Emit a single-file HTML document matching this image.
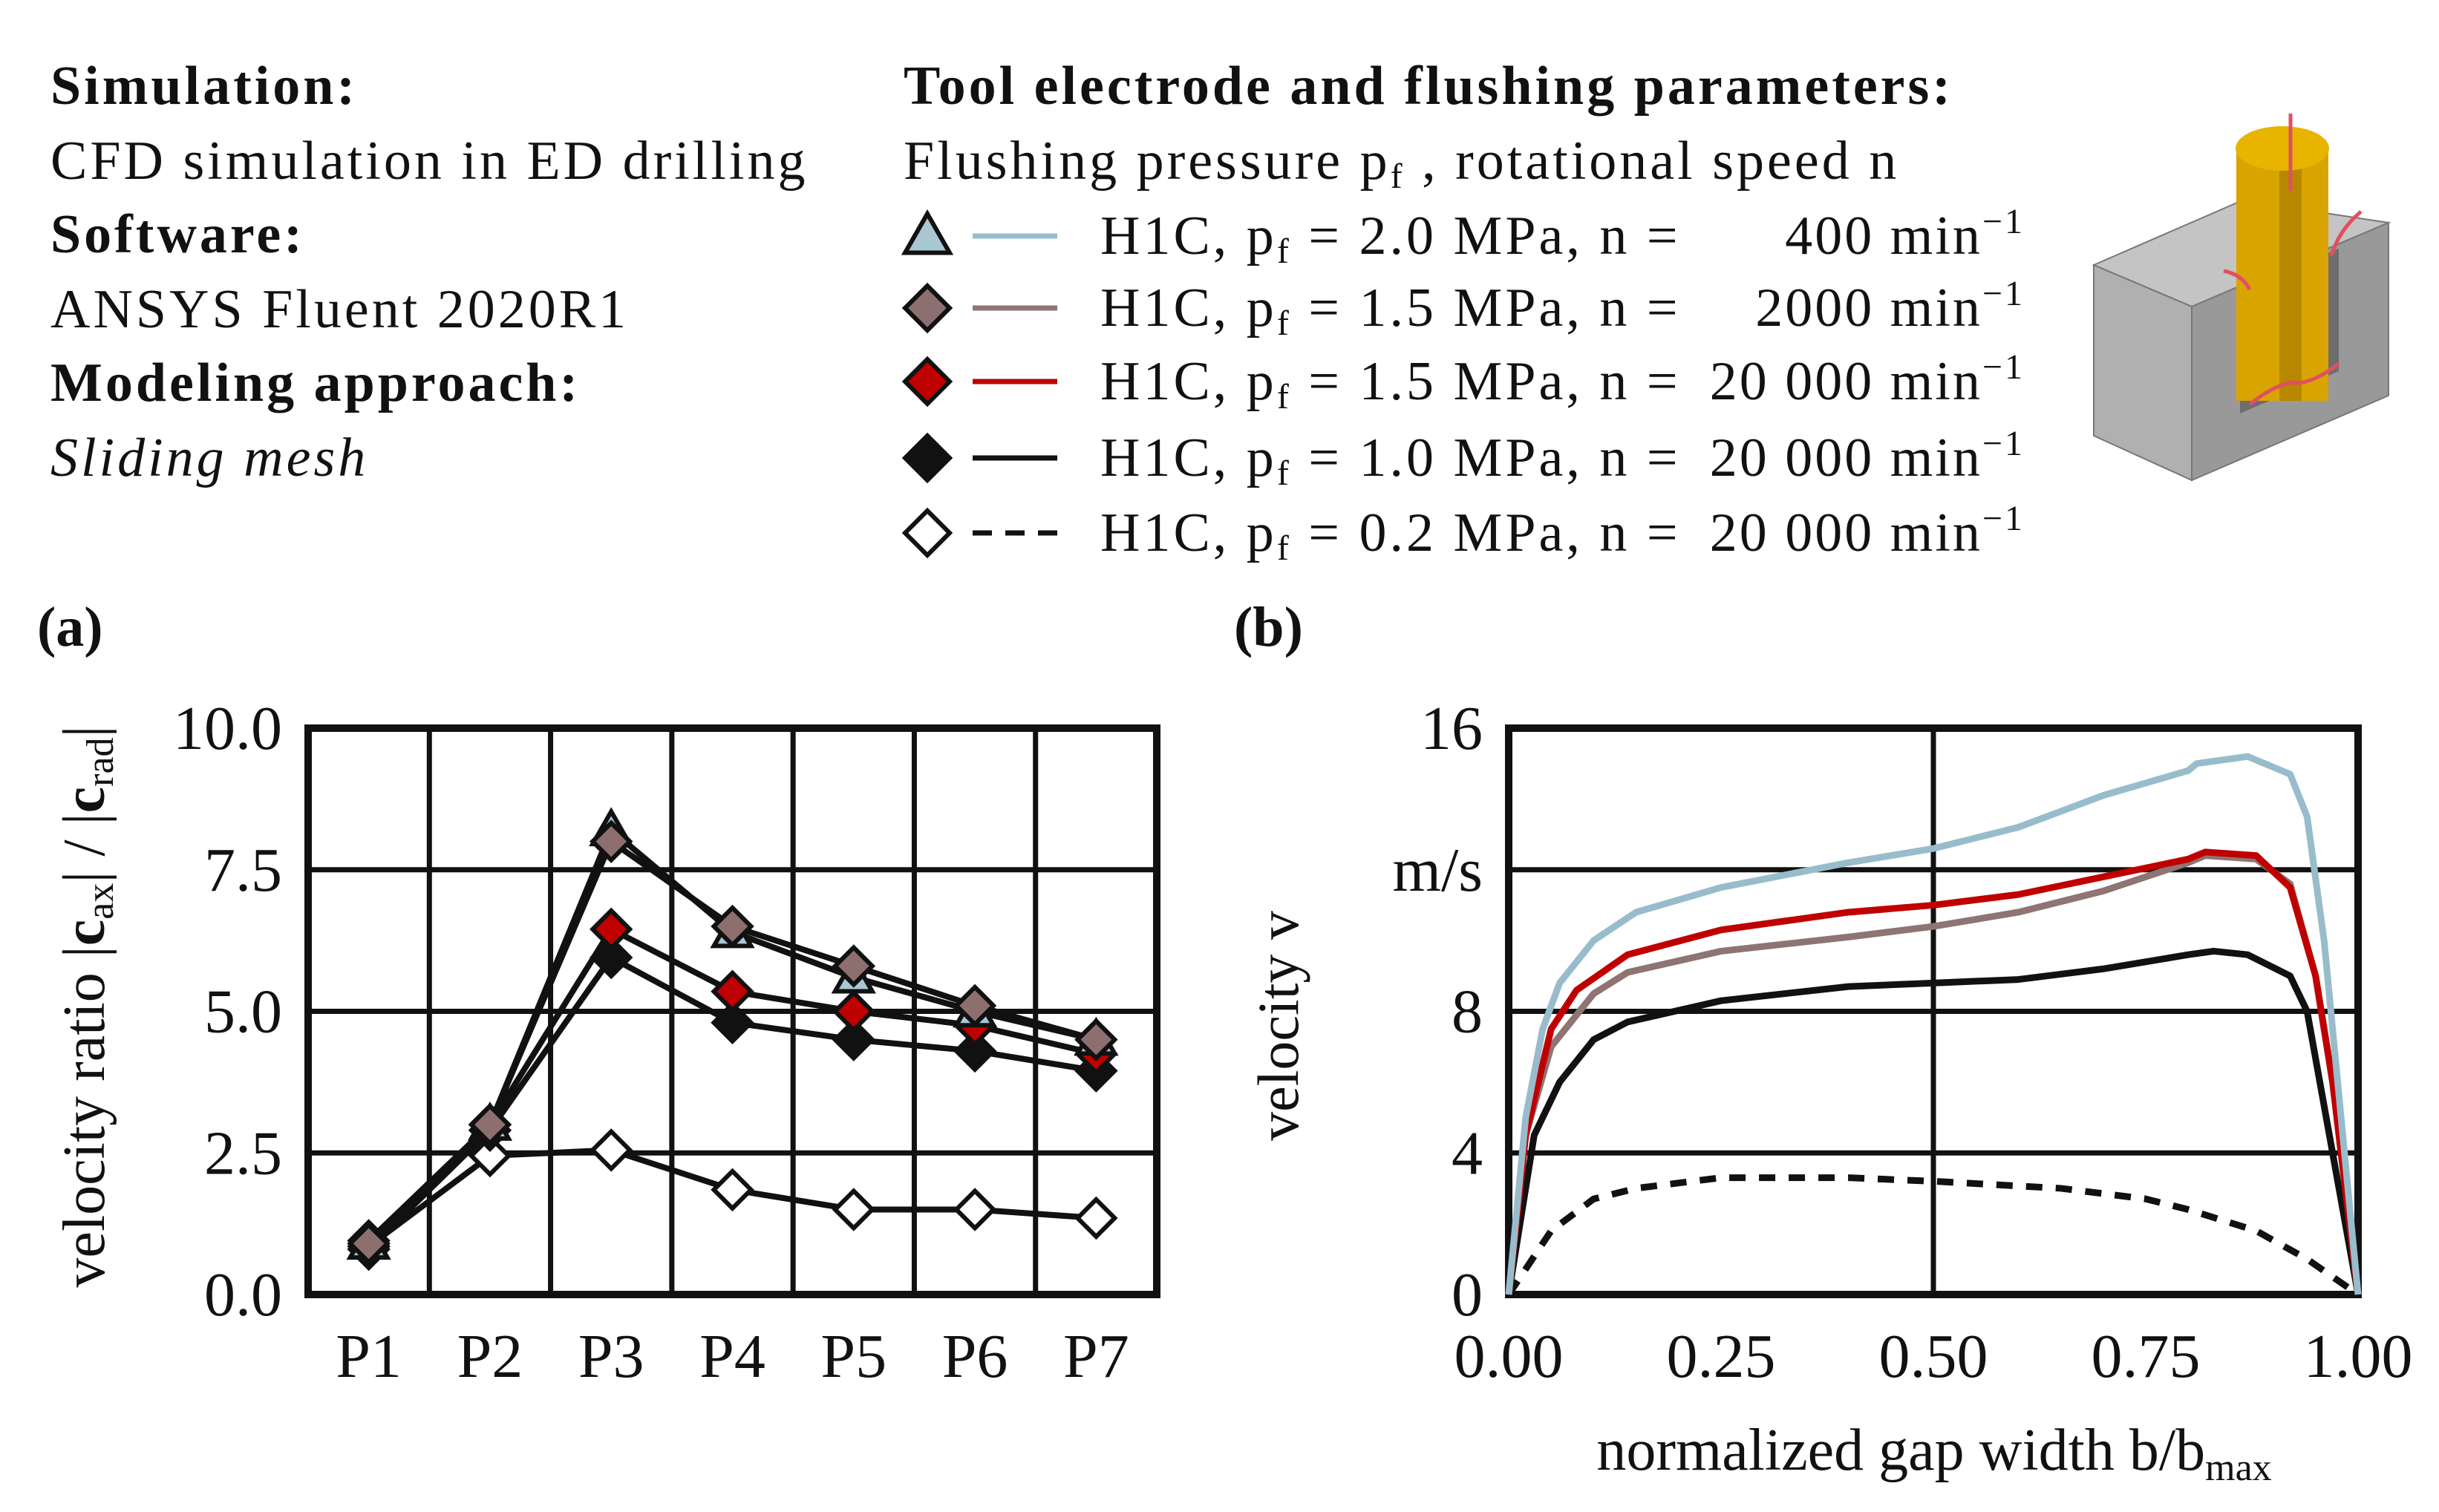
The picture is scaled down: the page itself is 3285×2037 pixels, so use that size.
<!DOCTYPE html>
<html><head><meta charset="utf-8"><style>
html,body{margin:0;padding:0;background:#fff}
svg{display:block}
text{font-family:"Liberation Serif",serif;fill:#111}
</style></head><body>
<svg id="fig" width="3285" height="2037" viewBox="0 0 3285 2037" xmlns="http://www.w3.org/2000/svg">
<g font-size="74" letter-spacing="4">
<text x="68" y="140" font-weight="bold">Simulation:</text>
<text x="68" y="241">CFD simulation in ED drilling</text>
<text x="68" y="340" font-weight="bold">Software:</text>
<text x="68" y="441">ANSYS  Fluent 2020R1</text>
<text x="68" y="540" font-weight="bold">Modeling approach:</text>
<text x="68" y="641" font-style="italic">Sliding mesh</text>
<text x="1217" y="140" font-weight="bold">Tool electrode and flushing parameters:</text>
<text x="1217" y="241">Flushing pressure p<tspan font-size="48" dy="12">f</tspan><tspan dy="-12"> , rotational speed n</tspan></text>
</g>
<g id="legend"></g>
<g>
<polygon points="2820,357 3020,270 3217,300 2952,413" fill="#c4c4c4" stroke="#777" stroke-width="2"/>
<polygon points="2820,357 2952,413 2952,647 2820,587" fill="#b0b0b0" stroke="#777" stroke-width="2"/>
<polygon points="2952,413 3217,300 3217,533 2952,647" fill="#999" stroke="#777" stroke-width="2"/>
<polygon points="3017,390 3150,335 3150,500 3017,557" fill="#6d6d6d"/>
<rect x="3012" y="200" width="124" height="340" fill="#d9a400"/>
<rect x="3070" y="195" width="30" height="345" fill="#b78700"/>
<ellipse cx="3074" cy="200" rx="63" ry="30" fill="#e8b400"/>
<line x1="3085" y1="153" x2="3085" y2="257" stroke="#e05060" stroke-width="5"/>
<path d="M3030,545 Q3060,520 3088,515 Q3110,520 3150,490" fill="none" stroke="#e05060" stroke-width="5"/>
<path d="M3140,345 Q3150,310 3180,285" fill="none" stroke="#e05060" stroke-width="5"/>
<path d="M3030,390 Q3020,370 2995,365" fill="none" stroke="#e05060" stroke-width="5"/>
</g>
<text x="50" y="870" font-size="76" font-weight="bold">(a)</text>
<text x="1662" y="870" font-size="76" font-weight="bold">(b)</text>
<g id="chartA"></g>
<g id="chartB"></g>
</svg>
<script>
const NS="http://www.w3.org/2000/svg";
function mk(parent,tag,attrs,txt){const e=document.createElementNS(NS,tag);for(const k in attrs)e.setAttribute(k,attrs[k]);if(txt!==undefined)e.textContent=txt;parent.appendChild(e);return e;}

// ---- Chart A data ----
const catsA=["P1","P2","P3","P4","P5","P6","P7"];
const ticksA=["0.0","2.5","5.0","7.5","10.0"];
const tickValsA=[0,2.5,5,7.5,10];
const s400=[0.9,3.0,8.2,6.4,5.6,5.0,4.5];
const s2000=[0.9,3.0,8.0,6.5,5.8,5.1,4.5];
const s20k15=[0.95,3.0,6.45,5.35,5.0,4.75,4.25];
const s20k10=[0.8,2.9,5.95,4.8,4.5,4.3,3.95];
const s20k02=[0.85,2.45,2.55,1.85,1.5,1.5,1.35];

// ---- Chart B data ----
const xTicksB=["0.00","0.25","0.50","0.75","1.00"];
const xTickValsB=[0,0.25,0.5,0.75,1];
const yTicksB=["0","4","8","m/s","16"];
const yTickValsB=[0,4,8,12,16];
const bx400=[0,0.02,0.04,0.06,0.1,0.15,0.25,0.4,0.5,0.6,0.7,0.8,0.81,0.87,0.92,0.94,0.96,0.98,1];
const by400=[0,5,7.5,8.8,10,10.8,11.5,12.2,12.6,13.2,14.1,14.8,15.0,15.2,14.7,13.5,10,5,0];
const bx15=[0,0.02,0.05,0.08,0.14,0.25,0.4,0.5,0.6,0.7,0.8,0.82,0.88,0.92,0.95,0.97,1];
const by15=[0,4.5,7.5,8.6,9.6,10.3,10.8,11.0,11.3,11.8,12.3,12.5,12.4,11.5,9,6,0];
const bx2000=[0,0.02,0.05,0.1,0.14,0.25,0.4,0.5,0.6,0.7,0.8,0.82,0.88,0.92,0.95,0.97,1];
const by2000=[0,4.5,7,8.5,9.1,9.7,10.1,10.4,10.8,11.4,12.2,12.4,12.3,11.6,9,6,0];
const bx10=[0,0.03,0.06,0.1,0.14,0.25,0.4,0.5,0.6,0.7,0.8,0.83,0.87,0.92,0.94,0.97,1];
const by10=[0,4.5,6,7.2,7.7,8.3,8.7,8.8,8.9,9.2,9.6,9.7,9.6,9.0,8.0,4,0];
const bx02=[0,0.05,0.1,0.15,0.25,0.4,0.5,0.65,0.75,0.8,0.88,0.94,1];
const by02=[0,1.8,2.7,3.0,3.3,3.3,3.2,3.0,2.7,2.4,1.8,1.0,0];

function marker(g,type,cx,cy,fill,r){
  if(type==="tri") return mk(g,"polygon",{points:`${cx},${cy-r} ${cx+r},${cy+r*0.75} ${cx-r},${cy+r*0.75}`,fill:fill,stroke:"#111","stroke-width":6});
  return mk(g,"polygon",{points:`${cx},${cy-r} ${cx+r},${cy} ${cx},${cy+r} ${cx-r},${cy}`,fill:fill,stroke:"#111","stroke-width":6});
}

// ---- Legend ----
const lg=document.getElementById("legend");
const legRows=[
 {m:"tri",f:"#a9c7d3",c:"#98bccb",d:"",p:"2.0",n:"400"},
 {m:"dia",f:"#8c6f6e",c:"#8e7472",d:"",p:"1.5",n:"2000"},
 {m:"dia",f:"#c00000",c:"#c00000",d:"",p:"1.5",n:"20 000"},
 {m:"dia",f:"#111",c:"#111",d:"",p:"1.0",n:"20 000"},
 {m:"dia",f:"#fff",c:"#111",d:"26 18",p:"0.2",n:"20 000"}];
const legY=[318,415,514,617,718];
legRows.forEach((r,i)=>{
  const g=mk(lg,"g",{});
  
  
  const y=legY[i];
  marker(g,r.m,1249,y,r.f,30);
  const l=mk(g,"line",{x1:1310,y1:y,x2:1424,y2:y,stroke:r.c,"stroke-width":7});
  if(r.d)l.setAttribute("stroke-dasharray",r.d);
  const t=mk(g,"text",{x:1482,y:y+24,"font-size":74,"letter-spacing":4});
  t.innerHTML=`H1C, p<tspan font-size="48" dy="12">f</tspan><tspan dy="-12"> = ${r.p} MPa, n = </tspan>`;
  const t2=mk(g,"text",{x:2727,y:y+24,"font-size":74,"letter-spacing":3,"text-anchor":"end"});
  t2.innerHTML=`${r.n} min<tspan font-size="48" dy="-28">−1</tspan>`;
});

// ---- Chart A ----
(function(){
 const g=document.getElementById("chartA");
 const L=415,R=1558,T=981,B=1744;
 const n=catsA.length,cw=(R-L)/n;
 const xA=i=>L+cw*(i+0.5);
 const yA=v=>B-(v/10)*(B-T);
 for(let i=1;i<n;i++){const l=mk(g,"line",{x1:L+cw*i,y1:T,x2:L+cw*i,y2:B,stroke:"#111","stroke-width":7});
  }
 tickValsA.forEach((v,i)=>{
  if(v>0&&v<10){const l=mk(g,"line",{x1:L,y1:yA(v),x2:R,y2:yA(v),stroke:"#111","stroke-width":7});
   }
  const t=mk(g,"text",{x:L-35,y:yA(v)+28,"font-size":84,"text-anchor":"end"},ticksA[i]);
  
 });
 catsA.forEach((c,i)=>{const t=mk(g,"text",{x:xA(i),y:1855,"font-size":84,"text-anchor":"middle"},c);
  });
 const fr=mk(g,"rect",{x:L,y:T,width:R-L,height:B-T,fill:"none",stroke:"#111","stroke-width":10});
 
 const yt=mk(g,"text",{transform:`translate(140,1356) rotate(-90)`,"font-size":80,"text-anchor":"middle"});
 yt.innerHTML='velocity ratio |<tspan font-weight="bold">c</tspan><tspan font-size="52" dy="12">ax</tspan><tspan dy="-12">| / |</tspan><tspan font-weight="bold">c</tspan><tspan font-size="52" dy="12">rad</tspan><tspan dy="-12">|</tspan>';
 
 const series=[[s20k02,"dia","#fff"],[s20k10,"dia","#111"],[s20k15,"dia","#c00000"],[s400,"tri","#a9c7d3"],[s2000,"dia","#8c6f6e"]];
 series.forEach(([d,m,f])=>{
  const sg=mk(g,"g",{});
  
  const pts=d.map((v,i)=>`${xA(i)},${yA(v)}`).join(" ");
  mk(sg,"polyline",{points:pts,fill:"none",stroke:"#111","stroke-width":8});
  d.forEach((v,i)=>{const p=marker(sg,m,xA(i),yA(v),f,25);
   });
 });
})();

// ---- Chart B ----
(function(){
 const g=document.getElementById("chartB");
 const L=2032,R=3176,T=981,B=1744;
 const xB=v=>L+v*(R-L);
 const yB=v=>B-(v/16)*(B-T);
 const vl=mk(g,"line",{x1:xB(0.5),y1:T,x2:xB(0.5),y2:B,stroke:"#111","stroke-width":7});
 
 yTickValsB.forEach((v,i)=>{
  if(v>0&&v<16){const l=mk(g,"line",{x1:L,y1:yB(v),x2:R,y2:yB(v),stroke:"#111","stroke-width":7});
   }
  const t=mk(g,"text",{x:L-35,y:yB(v)+28,"font-size":84,"text-anchor":"end"},yTicksB[i]);
  
 });
 xTickValsB.forEach((v,i)=>{const t=mk(g,"text",{x:xB(v),y:1855,"font-size":84,"text-anchor":"middle"},xTicksB[i]);
  });
 const fr=mk(g,"rect",{x:L,y:T,width:R-L,height:B-T,fill:"none",stroke:"#111","stroke-width":10});
 
 const yt=mk(g,"text",{transform:`translate(1748,1382) rotate(-90)`,"font-size":78,"text-anchor":"middle"},"velocity v");
 
 const xt=mk(g,"text",{x:2605,y:1980,"font-size":80,"text-anchor":"middle"});
 xt.innerHTML='normalized gap  width  b/b<tspan font-size="52" dy="14">max</tspan>';
 
 const series=[[bx02,by02,"#111","22 18"],[bx10,by10,"#111",""],[bx2000,by2000,"#8e7472",""],[bx15,by15,"#c00000",""],[bx400,by400,"#98bccb",""]];
 series.forEach(([xs,ys,c,d])=>{
  const pts=xs.map((x,i)=>`${xB(x)},${yB(ys[i])}`).join(" ");
  const p=mk(g,"polyline",{points:pts,fill:"none",stroke:c,"stroke-width":9,"stroke-linejoin":"round"});
  if(d)p.setAttribute("stroke-dasharray",d);
  
  
 });
})();
</script>
</body></html>
